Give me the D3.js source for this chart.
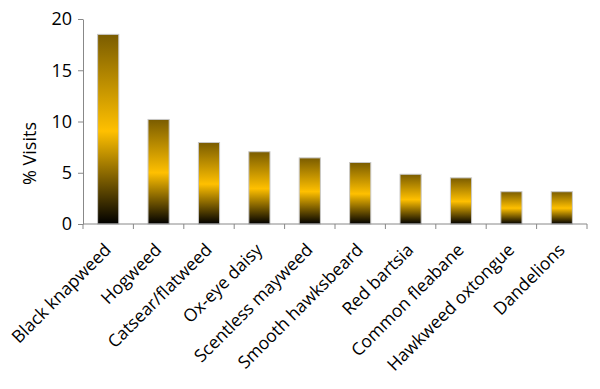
<!DOCTYPE html>
<html>
<head>
<meta charset="utf-8">
<script src="https://cdn.jsdelivr.net/npm/d3@7"></script>
<style>
  body { margin: 0; background: #fff; }
  text { font-family: "Open Sans", "Liberation Sans", sans-serif; fill: #000; }
</style>
</head>
<body>
<div id="chart"></div>
<script>
var plants = ["Black knapweed", "Hogweed", "Catsear/flatweed", "Ox-eye daisy", "Scentless mayweed",
    "Smooth hawksbeard", "Red bartsia", "Common fleabane", "Hawkweed oxtongue", "Dandelions"];
var visits = [18.5, 10.2, 7.95, 7.05, 6.45, 6.0, 4.85, 4.5, 3.15, 3.15];
var yTicks = [0, 5, 10, 15, 20];

var svgWidth = 600;
var svgHeight = 389;
var margin = { top: 19, right: 13, bottom: 165, left: 83 };
var width = svgWidth - margin.left - margin.right;
var height = svgHeight - margin.top - margin.bottom;

var svg = d3.select("#chart").append("svg")
    .attr("width", svgWidth).attr("height", svgHeight);

var defs = svg.append("defs");
var grad = defs.append("linearGradient")
    .attr("id", "barGrad").attr("x1", 0).attr("y1", 0).attr("x2", 0).attr("y2", 1);
grad.append("stop").attr("offset", "0%").attr("stop-color", "#7a5c00");
grad.append("stop").attr("offset", "51%").attr("stop-color", "#ffc000");
grad.append("stop").attr("offset", "100%").attr("stop-color", "#000000");

var chartGroup = svg.append("g")
    .attr("transform", `translate(${margin.left}, ${margin.top})`);

var x = d3.scaleBand().domain(plants).range([0, width]).paddingInner(0.58).paddingOuter(0.29);
var y = d3.scaleLinear().domain([0, 20]).range([height, 0]);

// bars
chartGroup.selectAll(".bar").data(plants).enter().append("rect")
    .attr("class", "bar")
    .attr("x", d => x(d)).attr("width", x.bandwidth())
    .attr("y", (d, i) => y(visits[i])).attr("height", (d, i) => height - y(visits[i]))
    .attr("fill", "url(#barGrad)").attr("stroke", "#c8c8c8").attr("stroke-width", 1);

// y axis
var leftAxis = d3.axisLeft(y).tickValues(yTicks).tickSize(5).tickPadding(6).tickSizeOuter(0);
var yAxisG = chartGroup.append("g").call(leftAxis);
yAxisG.selectAll("path, line").attr("stroke", "#888");
yAxisG.selectAll("text").attr("font-size", "18px").attr("font-family", "Open Sans, sans-serif");

// x axis with ticks at band boundaries
var boundaries = d3.range(plants.length + 1).map(i => i * width / plants.length);
var xAxisG = chartGroup.append("g").attr("transform", `translate(0, ${height})`);
xAxisG.append("line").attr("x1", 0).attr("x2", width).attr("y1", 0).attr("y2", 0).attr("stroke", "#888");
xAxisG.selectAll(".xtick").data(boundaries).enter().append("line")
    .attr("x1", d => d).attr("x2", d => d).attr("y1", 0).attr("y2", 5).attr("stroke", "#888");

xAxisG.selectAll(".xlabel").data(plants).enter().append("text")
    .attr("transform", d => `translate(${x(d) + x.bandwidth() / 2 + 4}, 27) rotate(-45)`)
    .attr("text-anchor", "end").attr("font-size", "17.5px").text(d => d);

// y axis title
chartGroup.append("text")
    .attr("transform", `translate(${-47}, ${height / 2 + 32}) rotate(-90)`)
    .attr("text-anchor", "middle").attr("font-size", "18px").text("% Visits");
</script>
</body>
</html>
